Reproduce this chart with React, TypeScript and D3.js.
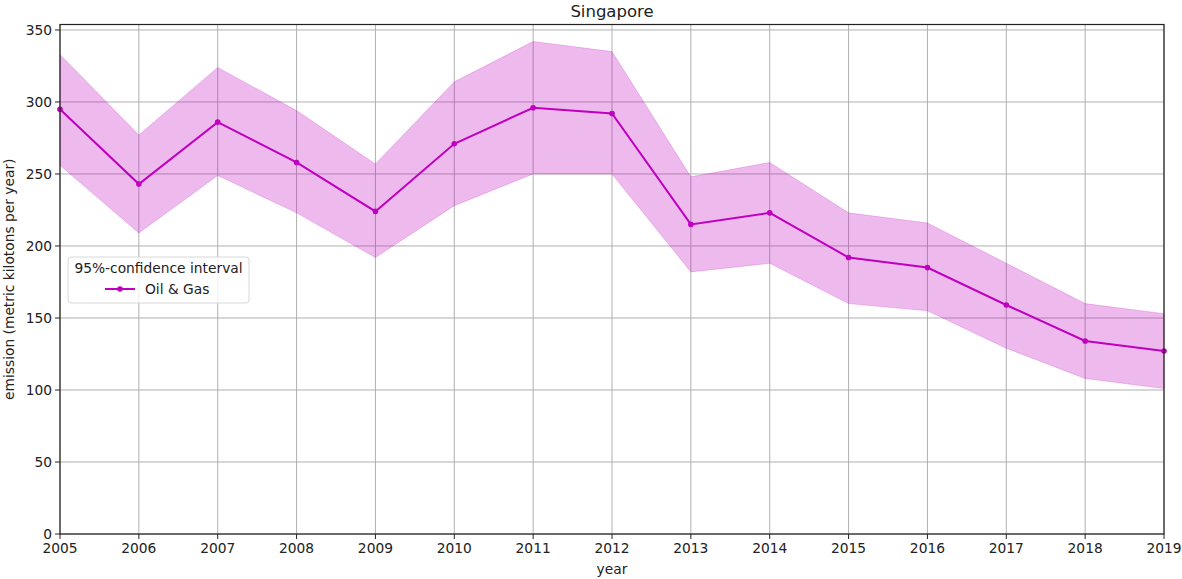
import { useEffect, useRef } from "react";
import * as d3 from "d3";

const years = [2005, 2006, 2007, 2008, 2009, 2010, 2011, 2012, 2013, 2014, 2015, 2016, 2017, 2018, 2019];
const meanValues = [295, 243, 286, 258, 224, 271, 296, 292, 215, 223, 192, 185, 159, 134, 127];
const upperValues = [333, 277, 324, 294, 257, 314, 342, 335, 248, 258, 223, 216, 188, 160, 153];
const lowerValues = [256, 209, 249, 223, 192, 228, 250, 250, 182, 188, 160, 155, 129, 108, 101];
const yTicks = [0, 50, 100, 150, 200, 250, 300, 350];
const seriesName = "Oil & Gas";
const legendTitle = "95%-confidence interval";
const chartTitle = "Singapore";

const W = 1182;
const H = 579;
const FONT = "DejaVu Sans, sans-serif";
const FS = 13.8;
const COLOR = "#bf00bf";

export default function App() {
  const ref = useRef<SVGSVGElement | null>(null);

  useEffect(() => {
    if (!ref.current) return;
    const svg = d3.select(ref.current);
    svg.selectAll("*").remove();

    const margin = { top: 24.5, right: 18, bottom: 45, left: 60 };
    const x = d3
      .scaleLinear()
      .domain([2005, 2019])
      .range([margin.left, W - margin.right]);
    const y = d3
      .scaleLinear()
      .domain([0, 353.8])
      .range([H - margin.bottom, margin.top]);

    const g = svg.append("g");

    // grid
    years.forEach((yr) => {
      g.append("line")
        .attr("x1", x(yr))
        .attr("x2", x(yr))
        .attr("y1", y(0))
        .attr("y2", margin.top)
        .attr("stroke", "#b0b0b0")
        .attr("stroke-width", 1);
    });
    yTicks.forEach((t) => {
      g.append("line")
        .attr("x1", margin.left)
        .attr("x2", W - margin.right)
        .attr("y1", y(t))
        .attr("y2", y(t))
        .attr("stroke", "#b0b0b0")
        .attr("stroke-width", 1);
    });

    // confidence band
    const area = d3
      .area<number>()
      .x((_, i) => x(years[i]))
      .y0((_, i) => y(lowerValues[i]))
      .y1((d) => y(d));
    g.append("path")
      .attr("d", area(upperValues) || "")
      .attr("fill", COLOR)
      .attr("fill-opacity", 0.27)
      .attr("stroke", COLOR)
      .attr("stroke-opacity", 0.2)
      .attr("stroke-width", 1);

    // mean line
    const line = d3
      .line<number>()
      .x((_, i) => x(years[i]))
      .y((d) => y(d));
    g.append("path")
      .attr("d", line(meanValues) || "")
      .attr("fill", "none")
      .attr("stroke", COLOR)
      .attr("stroke-width", 2);
    meanValues.forEach((v, i) => {
      g.append("circle")
        .attr("cx", x(years[i]))
        .attr("cy", y(v))
        .attr("r", 2.8)
        .attr("fill", COLOR);
    });

    // frame
    g.append("rect")
      .attr("x", margin.left)
      .attr("y", margin.top)
      .attr("width", W - margin.right - margin.left)
      .attr("height", y(0) - margin.top)
      .attr("fill", "none")
      .attr("stroke", "#222")
      .attr("stroke-width", 1.2);

    // x ticks
    years.forEach((yr) => {
      g.append("line")
        .attr("x1", x(yr))
        .attr("x2", x(yr))
        .attr("y1", y(0))
        .attr("y2", y(0) + 5)
        .attr("stroke", "#222");
      g.append("text")
        .attr("x", x(yr))
        .attr("y", y(0) + 19)
        .attr("text-anchor", "middle")
        .attr("font-family", FONT)
        .attr("font-size", FS)
        .attr("fill", "#222")
        .text(yr);
    });
    // y ticks
    yTicks.forEach((t) => {
      g.append("line")
        .attr("x1", margin.left - 5)
        .attr("x2", margin.left)
        .attr("y1", y(t))
        .attr("y2", y(t))
        .attr("stroke", "#222");
      g.append("text")
        .attr("x", margin.left - 8)
        .attr("y", y(t))
        .attr("dy", "0.35em")
        .attr("text-anchor", "end")
        .attr("font-family", FONT)
        .attr("font-size", FS)
        .attr("fill", "#222")
        .text(t);
    });

    // labels
    g.append("text")
      .attr("x", (margin.left + W - margin.right) / 2)
      .attr("y", y(0) + 40)
      .attr("text-anchor", "middle")
      .attr("font-family", FONT)
      .attr("font-size", FS)
      .attr("fill", "#222")
      .text("year");
    g.append("text")
      .attr("transform", `translate(14,${(margin.top + y(0)) / 2}) rotate(-90)`)
      .attr("text-anchor", "middle")
      .attr("font-family", FONT)
      .attr("font-size", FS)
      .attr("fill", "#222")
      .text("emission (metric kilotons per year)");
    g.append("text")
      .attr("x", (margin.left + W - margin.right) / 2)
      .attr("y", 17)
      .attr("text-anchor", "middle")
      .attr("font-family", FONT)
      .attr("font-size", 16.5)
      .attr("fill", "#222")
      .text(chartTitle);

    // legend
    const lg = g.append("g").attr("transform", "translate(68,257)");
    lg.append("rect")
      .attr("width", 181)
      .attr("height", 46)
      .attr("rx", 3)
      .attr("fill", "white")
      .attr("fill-opacity", 0.8)
      .attr("stroke", "#d8d8d8");
    lg.append("text")
      .attr("x", 90.5)
      .attr("y", 16)
      .attr("text-anchor", "middle")
      .attr("font-family", FONT)
      .attr("font-size", FS)
      .attr("fill", "#222")
      .text(legendTitle);
    lg.append("line")
      .attr("x1", 37)
      .attr("x2", 67)
      .attr("y1", 32)
      .attr("y2", 32)
      .attr("stroke", COLOR)
      .attr("stroke-width", 2);
    lg.append("circle").attr("cx", 52).attr("cy", 32).attr("r", 2.8).attr("fill", COLOR);
    lg.append("text")
      .attr("x", 77)
      .attr("y", 32)
      .attr("dy", "0.35em")
      .attr("font-family", FONT)
      .attr("font-size", FS)
      .attr("fill", "#222")
      .text(seriesName);
  }, []);

  return (
    <svg
      ref={ref}
      width={W}
      height={H}
      style={{ position: "absolute", left: 0, top: 0, background: "white" }}
    />
  );
}
